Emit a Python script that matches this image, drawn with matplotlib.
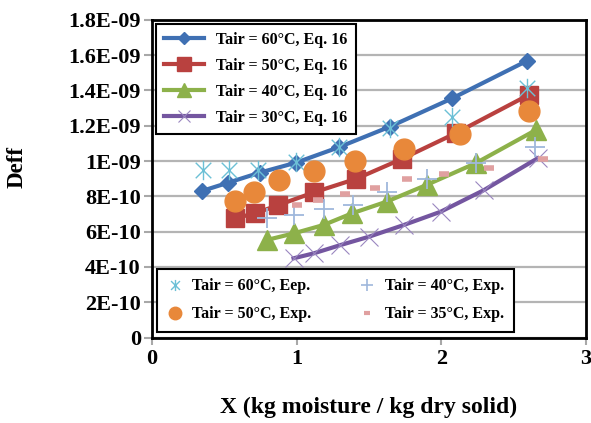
import numpy as np
import matplotlib
matplotlib.use('Agg')
from matplotlib import pyplot as plt
from matplotlib.path import Path
from matplotlib.lines import Line2D

plt.rcParams['font.family'] = ['Liberation Serif', 'DejaVu Serif']
plt.rcParams['font.weight'] = 'bold'

# model curves (Eq. 16)
x60 = [0.344, 0.529, 0.748, 0.996, 1.291, 1.645, 2.077, 2.590]
d60 = [8.30, 8.78, 9.35, 9.91, 10.78, 11.95, 13.56, 15.67]
x50 = [0.575, 0.714, 0.875, 1.118, 1.414, 1.730, 2.100, 2.604]
d50 = [6.76, 7.04, 7.51, 8.22, 9.00, 10.13, 11.58, 13.75]
x40 = [0.795, 0.984, 1.187, 1.384, 1.622, 1.899, 2.238, 2.654]
d40 = [5.53, 5.91, 6.38, 7.04, 7.70, 8.65, 9.88, 11.76]
x30 = [0.979, 1.118, 1.303, 1.499, 1.742, 1.996, 2.296, 2.666]
d30 = [4.49, 4.77, 5.24, 5.71, 6.38, 7.13, 8.36, 10.16]

# experimental points
ex60 = [0.351, 0.533, 0.736, 0.996, 1.291, 1.645, 2.077, 2.590]
ed60 = [9.50, 9.50, 9.50, 9.97, 10.82, 11.86, 12.48, 14.13]
ex50 = [0.575, 0.705, 0.880, 1.118, 1.407, 1.740, 2.128, 2.604]
ed50 = [7.71, 8.27, 8.95, 9.46, 10.02, 10.69, 11.52, 12.84]
ex40 = [0.795, 0.984, 1.187, 1.391, 1.622, 1.899, 2.238, 2.647]
ed40 = [6.76, 6.94, 7.27, 7.51, 8.27, 8.97, 9.88, 10.82]
ex35 = [1.003, 1.147, 1.337, 1.542, 1.762, 2.021, 2.331, 2.701]
ed35 = [7.51, 7.81, 8.15, 8.46, 8.99, 9.29, 9.63, 10.13]

yticks = [0, 2e-10, 4e-10, 6e-10, 8e-10, 1e-9, 1.2e-9, 1.4e-9, 1.6e-9, 1.8e-9]
ytick_labels = ['0', '2E-10', '4E-10', '6E-10', '8E-10', '1E-09',
                '1.2E-09', '1.4E-09', '1.6E-09', '1.8E-09']
xticks = [0, 1, 2, 3]

def sc(v):
	return np.array(v) * 1e-10

# asterisk like marker: vertical bar plus an X
star = Path([(0, -1), (0, 1), (-0.8, -0.8), (0.8, 0.8), (-0.8, 0.8), (0.8, -0.8)],
            [Path.MOVETO, Path.LINETO, Path.MOVETO, Path.LINETO, Path.MOVETO, Path.LINETO])

fig = plt.figure(figsize=(5.91, 4.23), dpi=100)
ax = fig.add_axes([0.257, 0.202, 0.7345, 0.751])

ax.plot(x60, sc(d60), color='#3f70b3', lw=3, marker='D', ms=8, zorder=3)
ax.plot(x50, sc(d50), color='#b9413f', lw=3, marker='s', ms=13, zorder=3)
ax.plot(x40, sc(d40), color='#8db14a', lw=3, marker='^', ms=14, zorder=3)
ax.plot(x30, sc(d30), color='#7456a0', lw=3, marker='x', ms=13, mew=0.8,
        mec='#9a86c0', zorder=3)

ax.plot(ex60, sc(ed60), ls='none', marker=star, ms=14, mew=1.0, mec='#6cc0d6',
        mfc='none', zorder=4)
ax.plot(ex50, sc(ed50), ls='none', marker='o', ms=15, color='#e8883a', zorder=4)
ax.plot(ex40, sc(ed40), ls='none', marker='+', ms=15, mew=1.3, mec='#9fb8dc', zorder=4)
ax.plot(ex35, sc(ed35), ls='none', marker='_', ms=7, mew=4, mec='#e0a0a0', zorder=4)

ax.set_xlim(0, 3)
ax.set_ylim(0, 1.8e-9)
ax.set_xticks(xticks)
ax.set_xticklabels([str(t) for t in xticks])
ax.set_yticks(yticks)
ax.set_yticklabels(ytick_labels)
ax.yaxis.grid(True, color='#b4b4b4', lw=1.6)
ax.set_axisbelow(True)
ax.tick_params(axis='y', length=6, width=1.5, color='#a8a8a8', pad=2, labelsize=16)
ax.tick_params(axis='x', length=5, width=1.5, color='#a8a8a8', pad=3, labelsize=16)
for s in ax.spines.values():
	s.set_linewidth(2)
	s.set_color('black')

ax.set_ylabel('Deff', fontsize=16.5, fontweight='bold')
ax.yaxis.set_label_coords(-0.287, 0.537)
ax.set_xlabel('X (kg moisture / kg dry solid)', fontsize=17, fontweight='bold')
ax.xaxis.set_label_coords(0.5, -0.185)

h1 = [Line2D([], [], color='#3f70b3', lw=3, marker='D', ms=6),
      Line2D([], [], color='#b9413f', lw=3, marker='s', ms=10),
      Line2D([], [], color='#8db14a', lw=3, marker='^', ms=10),
      Line2D([], [], color='#7456a0', lw=3, marker='x', ms=9, mew=0.8, mec='#9a86c0')]
l1 = ['Tair = 60°C, Eq. 16', 'Tair = 50°C, Eq. 16', 'Tair = 40°C, Eq. 16', 'Tair = 30°C, Eq. 16']
leg1 = ax.legend(h1, l1, loc='upper left', bbox_to_anchor=(0.009, 0.987), borderaxespad=0,
                 fancybox=False, framealpha=1, edgecolor='black', fontsize=11.5,
                 handlelength=2.5, labelspacing=0.62, borderpad=0.5, handletextpad=0.8)
leg1.get_frame().set_linewidth(1.5)
ax.add_artist(leg1)

h2 = [Line2D([], [], ls='none', marker=star, ms=8, mew=1.0, mec='#6cc0d6', mfc='none'),
      Line2D([], [], ls='none', marker='o', ms=9, color='#e8883a'),
      Line2D([], [], ls='none', marker='+', ms=9, mew=1.2, mec='#9fb8dc'),
      Line2D([], [], ls='none', marker='_', ms=5, mew=3, mec='#e0a0a0')]
l2 = ['Tair = 60°C, Eep.', 'Tair = 50°C, Exp.', 'Tair = 40°C, Exp.', 'Tair = 35°C, Exp.']
leg2 = ax.legend(h2, l2, loc='lower left', bbox_to_anchor=(0.012, 0.018), borderaxespad=0,
                 ncol=2, fancybox=False, framealpha=1, edgecolor='black', fontsize=11.5,
                 handlelength=1.0, labelspacing=0.75, borderpad=0.6, handletextpad=0.6,
                 columnspacing=3.0)
leg2.get_frame().set_linewidth(1.5)

fig.savefig('out.png', dpi=100)
